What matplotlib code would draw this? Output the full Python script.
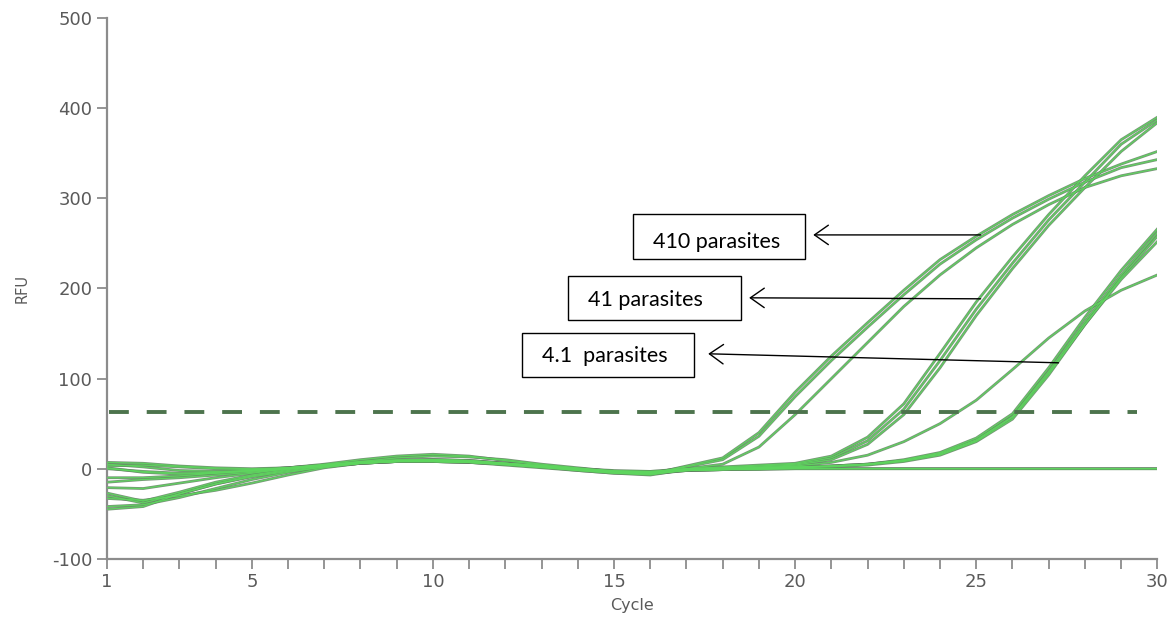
import matplotlib
matplotlib.use("Agg")
import matplotlib.pyplot as plt
from matplotlib.patches import Rectangle

plt.rcParams["axes.unicode_minus"] = False
plt.rcParams["font.family"] = ["DejaVu Sans"]

cycles = list(range(1, 31))

# cycles 1-16 (background phase) and 17-30 (amplification phase) per well
early = {
    "410a": [-27, -36, -26, -15, -7, -1, 4, 7, 9, 9, 8, 5, 2, -1, -4, -6],
    "410b": [1, -4, -6, -5, -3, 0, 4, 8, 12, 14, 13, 10, 5, 1, -3, -5],
    "410c": [-10, -10, -8, -5, -2, 1, 4, 7, 9, 10, 9, 6, 3, 0, -3, -4],
    "41a": [-21, -22, -16, -10, -5, 0, 4, 8, 10, 10, 9, 6, 3, 0, -3, -5],
    "41b": [7, 6, 3, 1, 0, 1, 4, 7, 9, 9, 8, 5, 2, -1, -3, -3],
    "41c": [-33, -35, -30, -24, -16, -7, 1, 6, 8, 9, 8, 5, 2, -2, -5, -7],
    "m1": [-42, -40, -32, -22, -12, -4, 2, 6, 8, 8, 7, 5, 2, -1, -4, -6],
    "m2": [-45, -42, -28, -17, -9, -3, 2, 6, 8, 8, 7, 4, 1, -2, -5, -6],
    "m3": [5, 2, -2, -3, -2, 0, 3, 6, 8, 9, 8, 6, 3, 0, -2, -3],
    "m4": [-15, -12, -10, -7, -4, 0, 3, 6, 8, 8, 7, 5, 2, -1, -3, -4],
    "slow": [0, -3, -5, -4, -2, 1, 4, 7, 9, 10, 9, 6, 3, 0, -3, -4],
    "neg1": [-30, -38, -28, -17, -8, -2, 3, 6, 8, 8, 7, 5, 2, -1, -4, -5],
    "neg2": [3, 4, 2, 0, -1, 1, 5, 10, 14, 16, 14, 9, 4, 0, -3, -5],
}
late = {
    "410a": [3, 12, 40, 85, 125, 162, 198, 232, 258, 282, 303, 322, 338, 352],
    "410b": [2, 10, 36, 80, 120, 157, 193, 227, 254, 278, 299, 318, 334, 343],
    "410c": [0, 5, 24, 60, 100, 140, 180, 215, 245, 271, 293, 312, 325, 333],
    "41a": [0, 2, 4, 6, 14, 35, 72, 128, 185, 235, 282, 325, 365, 390],
    "41b": [0, 1, 3, 5, 12, 31, 66, 120, 177, 228, 276, 318, 360, 387],
    "41c": [-1, 1, 2, 4, 10, 27, 60, 112, 170, 222, 270, 312, 352, 384],
    "m1": [-1, 0, 1, 2, 3, 5, 9, 17, 32, 58, 108, 163, 215, 262],
    "m2": [-2, -1, 0, 1, 2, 4, 8, 15, 30, 55, 104, 160, 212, 258],
    "m3": [-2, -1, 0, 1, 3, 5, 9, 16, 31, 57, 106, 160, 210, 252],
    "m4": [-1, 0, 1, 2, 3, 5, 10, 18, 34, 61, 112, 168, 220, 266],
    "slow": [-1, 0, 1, 3, 7, 15, 30, 50, 76, 110, 145, 175, 198, 215],
    "neg1": [-2, -1, -1, 0, 0, 0, 0, 0, 0, 0, 0, 0, 0, 0],
    "neg2": [-2, -1, 0, 0, 0, 0, 0, 0, 0, 0, 0, 0, 0, 0],
}

threshold = 63
threshold_end = 29.45

labels = ["410 parasites", "41 parasites", "4.1  parasites"]
# box (x0, x1, y0, y1), text left/centre, arrow head and tail
boxes = [(15.53, 20.28, 232.8, 282.7), (13.73, 18.51, 165, 214), (12.46, 17.22, 102, 150.8)]
text_pos = [(16.08, 252), (14.29, 187), (13.02, 125)]
arrow_heads = [(20.5, 259.4), (18.73, 189.6), (17.6, 127.5)]
arrow_tails = [(25.12, 259.4), (25.12, 188.5), (27.27, 117.5)]

fig = plt.figure(figsize=(11.75, 6.23), dpi=100)
ax = fig.add_axes([0.091, 0.103, 0.894, 0.868])

for key in early:
    vals = early[key] + late[key]
    ax.plot(cycles, vals, color="#5f835f", lw=2.0, alpha=0.85, zorder=2)
    ax.plot(cycles, vals, color="#5ed65e", lw=0.9, alpha=0.9, zorder=3)

ax.plot([1.05, threshold_end], [threshold, threshold], color="#4d744d", lw=2.8,
        dashes=(5.1, 4.6), zorder=4)

for lab, (x0, x1, y0, y1), (tx, ty), hd, tl in zip(labels, boxes, text_pos, arrow_heads, arrow_tails):
    ax.add_patch(Rectangle((x0, y0), x1 - x0, y1 - y0, fill=True, facecolor="white",
                           edgecolor="black", lw=1.0, zorder=5))
    ax.text(tx, ty, lab, ha="left", va="center", fontsize=15.5, family="Lato", color="black", zorder=6)
    ax.annotate("", xy=hd, xytext=tl,
                arrowprops=dict(arrowstyle="->,head_length=0.5,head_width=0.35", lw=1.0,
                                color="black", shrinkA=0, shrinkB=0, mutation_scale=20),
                zorder=6)

ax.set_xlim(1, 30)
ax.set_ylim(-100, 500)
ax.set_xticks(cycles)
ax.set_xticklabels([str(c) if c in (1, 5, 10, 15, 20, 25, 30) else "" for c in cycles])
ax.set_yticks(range(-100, 501, 100))

for side in ("top", "right"):
    ax.spines[side].set_visible(False)
for side in ("left", "bottom"):
    ax.spines[side].set_color("#8c8c8c")
    ax.spines[side].set_linewidth(1.6)
ax.tick_params(colors="#8c8c8c", length=7, width=1.3, labelcolor="#5a5a5a", labelsize=13)
ax.tick_params(axis="x", pad=3)

ax.set_xlabel("Cycle", fontsize=11.5, color="#5a5a5a", labelpad=5)
ax.set_ylabel("RFU", fontsize=10.5, color="#5a5a5a", labelpad=16)

fig.savefig("out.png", dpi=100)
